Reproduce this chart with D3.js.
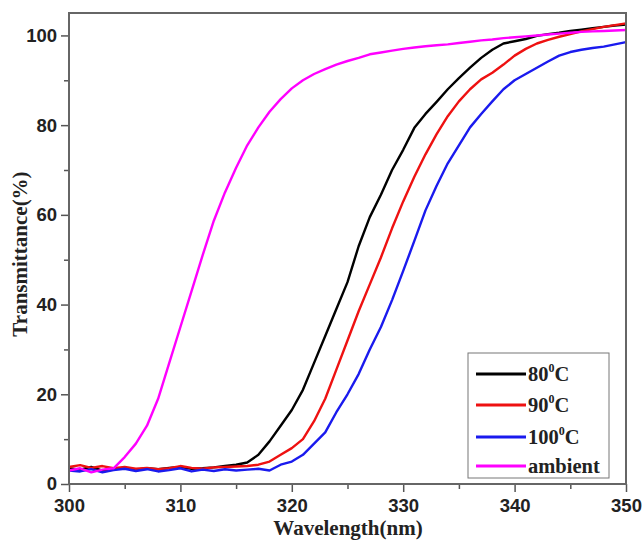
<!DOCTYPE html>
<html lang="en">
<head>
<meta charset="UTF-8">
<title>Transmittance</title>
<script src="https://cdnjs.cloudflare.com/ajax/libs/d3/7.8.5/d3.min.js"></script>
<style>
  body { margin: 0; background: #fff; }
  .tick text { font-family: "Liberation Sans", Arial, sans-serif; font-weight: bold; font-size: 18.5px; fill: #222; }
  .ttl { font-family: "Liberation Serif", "Times New Roman", serif; font-weight: bold; font-size: 21px; fill: #222; }
  .leg { font-family: "Liberation Serif", "Times New Roman", serif; font-weight: bold; font-size: 20.5px; fill: #222; }
</style>
</head>
<body>
<div id="chart"></div>
<script>
// wavelength (nm)
var wavelength = d3.range(300, 351);

// transmittance (%) per nm
var t80 = [3.5, 3.2, 3.8, 3.0, 3.4, 3.6, 3.2, 3.5, 3.3, 3.6,
  3.8, 3.4, 3.5, 3.7, 4.0, 4.3, 4.8, 6.5, 9.5, 13, 16.5, 21, 27, 33, 39,
  45, 53, 59.5, 64.5, 70, 74.5, 79.4, 82.5, 85.2, 88, 90.5, 92.8, 95, 96.8, 98.2,
  98.7, 99.2, 99.9, 100.3, 100.6, 101, 101.3, 101.6, 101.9, 102.2, 102.4];
var t90 = [3.8, 4.2, 3.6, 4.0, 3.5, 3.8, 3.4, 3.6, 3.3, 3.5,
  4.0, 3.6, 3.4, 3.7, 3.8, 3.9, 4.0, 4.3, 5.0, 6.5, 8, 10, 14, 19, 25.5,
  32, 38.5, 44.5, 50.5, 57, 63, 68.5, 73.5, 78, 82, 85.3, 88, 90.2, 91.7, 93.5,
  95.5, 97, 98.2, 99, 99.7, 100.3, 100.9, 101.4, 101.9, 102.3, 102.7];
var t100 = [3.0, 2.8, 3.3, 2.6, 3.1, 3.4, 2.9, 3.3, 2.8, 3.1,
  3.5, 2.8, 3.2, 2.9, 3.3, 3.0, 3.2, 3.4, 3.0, 4.3, 5, 6.5, 9, 11.5, 16,
  20, 24.5, 30, 35, 41, 47.5, 54.2, 61, 66.5, 71.5, 75.5, 79.5, 82.5, 85.3, 88,
  90, 91.4, 92.8, 94.2, 95.5, 96.3, 96.8, 97.2, 97.5, 98, 98.5];
var tAmbient = [3.0, 3.5, 2.6, 3.2, 3.5, 6, 9, 13, 19, 27,
  35, 43, 51, 58.7, 65, 70.5, 75.5, 79.5, 83, 85.8, 88.2, 90, 91.4, 92.5, 93.5,
  94.3, 95, 95.8, 96.2, 96.6, 97, 97.3, 97.6, 97.8, 98, 98.3, 98.6, 98.9, 99.1, 99.4,
  99.6, 99.8, 100, 100.2, 100.4, 100.6, 100.8, 100.9, 101, 101.1, 101.2];

var seriesNames = ["80", "90", "100", "ambient"];
var seriesColors = ["#000000", "#ee1111", "#1a1aee", "#ff00ff"];
var seriesValues = [t80, t90, t100, tAmbient];

var xTicks = [300, 310, 320, 330, 340, 350];
var yTicks = [0, 20, 40, 60, 80, 100];

// layout
var width = 644, height = 542;
var plotLeft = 69, plotRight = 626, plotTop = 13, plotBottom = 484;

var svg = d3.select("#chart").append("svg")
  .attr("width", width)
  .attr("height", height);

var x = d3.scaleLinear().domain([300, 350]).range([plotLeft, plotRight]);
var y = d3.scaleLinear().domain([0, 105]).range([plotBottom, plotTop]);

// curves
var line = d3.line()
  .x(function (d) { return x(d[0]); })
  .y(function (d) { return y(d[1]); });

seriesValues.forEach(function (vals, i) {
  svg.append("path")
    .datum(wavelength.map(function (w, j) { return [w, vals[j]]; }))
    .attr("fill", "none")
    .attr("stroke", seriesColors[i])
    .attr("stroke-width", 2.4)
    .attr("stroke-linejoin", "round")
    .attr("d", line);
});

function styleTicks(g) {
  g.select(".domain").remove();
  g.selectAll("line").attr("stroke", "#555").attr("stroke-width", 1.5);
}

// minor ticks
svg.append("g")
  .attr("transform", "translate(0," + plotBottom + ")")
  .call(d3.axisBottom(x).tickValues(d3.range(305, 350, 10)).tickSize(5).tickFormat(""))
  .call(styleTicks);
svg.append("g")
  .attr("transform", "translate(" + plotLeft + ",0)")
  .call(d3.axisLeft(y).tickValues(d3.range(10, 100, 20)).tickSize(5).tickFormat(""))
  .call(styleTicks);

// major ticks
svg.append("g")
  .attr("transform", "translate(0," + plotBottom + ")")
  .call(d3.axisBottom(x).tickValues(xTicks).tickSize(8).tickPadding(7))
  .call(styleTicks);
svg.append("g")
  .attr("transform", "translate(" + plotLeft + ",0)")
  .call(d3.axisLeft(y).tickValues(yTicks).tickSize(8).tickPadding(4))
  .call(styleTicks);

// frame
svg.append("rect")
  .attr("x", plotLeft).attr("y", plotTop)
  .attr("width", plotRight - plotLeft).attr("height", plotBottom - plotTop)
  .attr("fill", "none")
  .attr("stroke", "#666")
  .attr("stroke-width", 2);

// axis titles
svg.append("text")
  .attr("class", "ttl")
  .attr("x", 348)
  .attr("y", 535)
  .attr("text-anchor", "middle")
  .text("Wavelength(nm)");
svg.append("text")
  .attr("class", "ttl")
  .attr("transform", "translate(27,254) rotate(-90)")
  .attr("text-anchor", "middle")
  .text("Transmittance(%)");

// legend
var legend = svg.append("g").attr("transform", "translate(468,353)");
legend.append("rect")
  .attr("width", 141).attr("height", 125)
  .attr("fill", "#fff")
  .attr("stroke", "#777")
  .attr("stroke-width", 1);

var rowY = [21, 52, 84, 113];
seriesNames.forEach(function (name, i) {
  var row = legend.append("g").attr("transform", "translate(0," + rowY[i] + ")");
  row.append("line")
    .attr("x1", 8).attr("x2", 58)
    .attr("stroke", seriesColors[i])
    .attr("stroke-width", 3);
  var t = row.append("text")
    .attr("class", "leg")
    .attr("x", 60)
    .attr("y", 7);
  if (name === "ambient") {
    t.text(name);
  } else {
    t.append("tspan").text(name);
    t.append("tspan").attr("dy", -9).attr("font-size", 12).text("0");
    t.append("tspan").attr("dy", 9).text("C");
  }
});
</script>
</body>
</html>
